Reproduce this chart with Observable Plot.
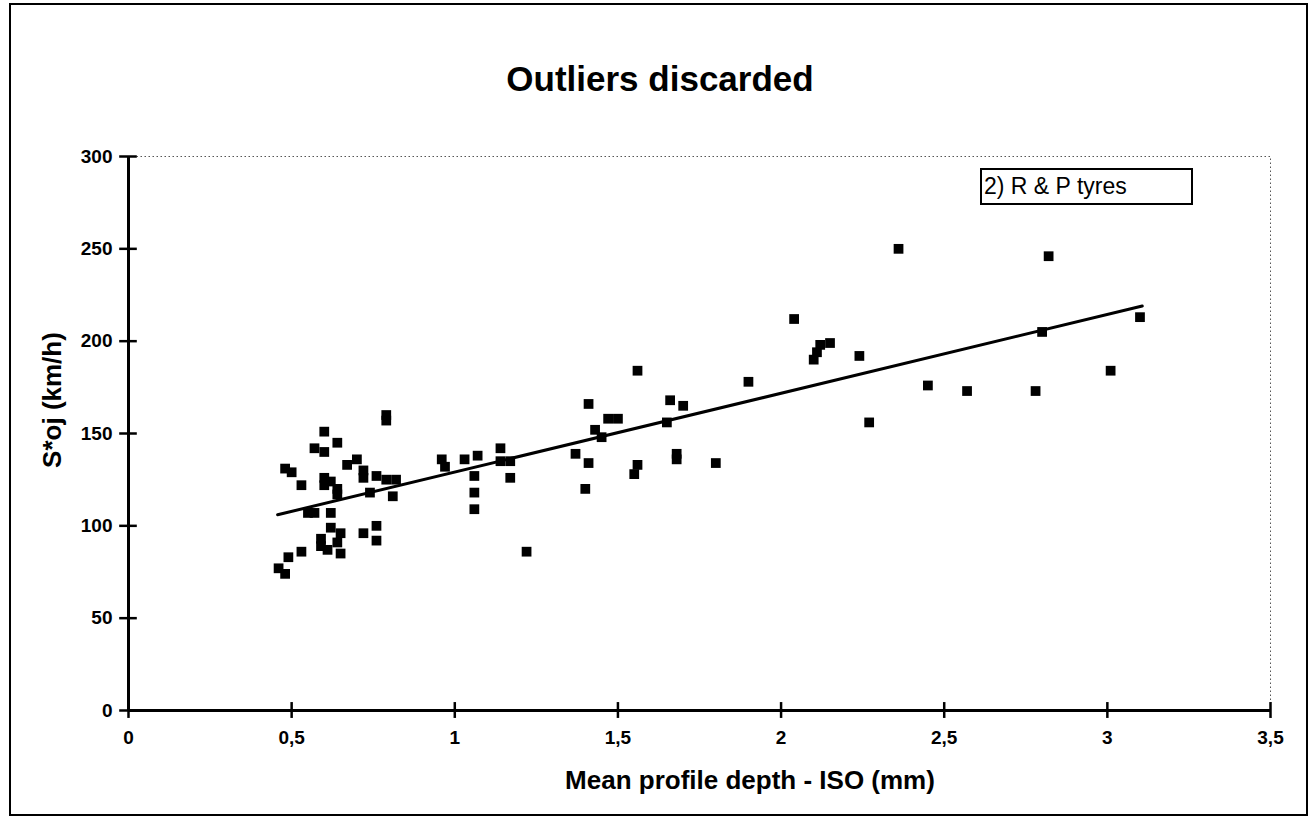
<!DOCTYPE html>
<html>
<head>
<meta charset="utf-8">
<script src="https://cdn.jsdelivr.net/npm/d3@7"></script>
<script src="https://cdn.jsdelivr.net/npm/@observablehq/plot@0.6"></script>
<style>
  body { margin: 0; background: #fff; }
  #wrap { position: relative; width: 1315px; height: 824px; overflow: hidden; font-family: "Liberation Sans", Arial, sans-serif; color: #000; }
  #border { position: absolute; left: 9px; top: 3px; width: 1299px; height: 813px; border: 2px solid #000; box-sizing: border-box; pointer-events: none; }
  #chart { position: absolute; left: 0; top: 0; }
  #title { position: absolute; left: 310px; width: 700px; top: 58px; text-align: center; font-weight: bold; font-size: 35px; line-height: 42px; }
  #xtitle { position: absolute; left: 400px; width: 700px; top: 765px; text-align: center; font-weight: bold; font-size: 26px; line-height: 30px; }
  #ytitle { position: absolute; left: 52px; top: 400px; width: 300px; margin-left: -150px; margin-top: -15px; text-align: center; font-weight: bold; font-size: 26px; line-height: 30px; transform: rotate(-90deg); }
  #legend { position: absolute; left: 980px; top: 168px; width: 213px; height: 37px; border: 2px solid #000; box-sizing: border-box; font-size: 23px; line-height: 32px; padding-left: 2px; background: #fff; white-space: nowrap; }
</style>
</head>
<body>
<div id="wrap">
  <div id="chart"></div>
  <div id="border"></div>
  <div id="title">Outliers discarded</div>
  <div id="ytitle">S*oj (km/h)</div>
  <div id="xtitle">Mean profile depth - ISO (mm)</div>
  <div id="legend">2) R &amp; P tyres</div>
</div>
<script>
// Mean profile depth - ISO (mm)
const depth = [
  0.79, 0.79, 0.60, 0.64, 0.57, 0.60, 0.70, 0.67, 0.72, 0.72,
  0.48, 0.50, 0.76, 0.60, 0.82, 0.79, 0.53, 0.62, 0.60, 0.64,
  0.64, 0.81, 0.74, 0.55, 0.57, 0.62, 0.76, 0.62, 0.65, 0.72,
  0.76, 0.59, 0.64, 0.59, 0.61, 0.65, 0.53, 0.49, 0.46, 0.48,
  1.41, 1.47, 1.50, 1.43, 1.45, 0.96, 0.97, 1.03, 1.07, 1.14,
  1.14, 1.17, 1.06, 1.17, 1.06, 1.37, 1.41, 1.40, 1.06, 1.22,
  1.56, 2.04, 1.66, 1.70, 1.65, 1.90, 2.12, 2.15, 2.11, 2.10,
  2.24, 1.56, 1.55, 1.68, 1.68, 1.80,
  2.36, 2.82, 2.80, 2.45, 2.57, 2.78, 2.27, 3.10, 3.01
];
// S*oj (km/h)
const speed = [
  160, 157, 151, 145, 142, 140, 136, 133, 130, 126,
  131, 129, 127, 126, 125, 125, 122, 124, 122, 120,
  117, 116, 118, 107, 107, 107, 100, 99, 96, 96,
  92, 93, 91, 89, 87, 85, 86, 83, 77, 74,
  166, 158, 158, 152, 148, 136, 132, 136, 138, 142,
  135, 135, 127, 126, 118, 139, 134, 120, 109, 86,
  184, 212, 168, 165, 156, 178, 198, 199, 194, 190,
  192, 133, 128, 139, 136, 134,
  250, 246, 205, 176, 173, 173, 156, 213, 184
];
// Linear trend line end points
const trendDepth = [0.457, 3.107];
const trendSpeed = [106, 219];
// Axis ticks
const xTicks = [0, 0.5, 1, 1.5, 2, 2.5, 3, 3.5];
const yTicks = [0, 50, 100, 150, 200, 250, 300];

const points = depth.map((d, i) => ({depth: d, speed: speed[i]}));
const trend = trendDepth.map((d, i) => ({depth: d, speed: trendSpeed[i]}));
const fmt = d => String(d).replace(".", ",");

const plot = Plot.plot({
  width: 1315,
  height: 824,
  marginLeft: 128,
  marginRight: 45,
  marginTop: 156,
  marginBottom: 114,
  x: {domain: [0, 3.5], label: null},
  y: {domain: [0, 300], label: null},
  style: {fontFamily: '"Liberation Sans", Arial, sans-serif', fontSize: "19px", fontWeight: "bold", background: "transparent", overflow: "visible", color: "#000"},
  marks: [
    Plot.frame({stroke: "#555", strokeDasharray: "1.5,2.5", strokeWidth: 1}),
    Plot.ruleY([0], {stroke: "#000", strokeWidth: 3}),
    Plot.ruleX([0], {stroke: "#000", strokeWidth: 3}),
    Plot.ruleX(xTicks, {x: d => d, y1: -4.3, y2: 4.3, stroke: "#000", strokeWidth: 2.5}),
    Plot.ruleY(yTicks, {y: d => d, x1: -0.027, x2: 0.027, stroke: "#000", strokeWidth: 2.5}),
    Plot.axisX({ticks: xTicks, tickSize: 0, tickPadding: 20, tickFormat: fmt, label: null}),
    Plot.axisY({ticks: yTicks, tickSize: 0, tickPadding: 16, label: null}),
    Plot.line(trend, {x: "depth", y: "speed", stroke: "#000", strokeWidth: 3}),
    Plot.dot(points, {x: "depth", y: "speed", symbol: "square", r: 5.5, fill: "#000", stroke: "none"})
  ]
});
document.getElementById("chart").appendChild(plot);
</script>
</body>
</html>
